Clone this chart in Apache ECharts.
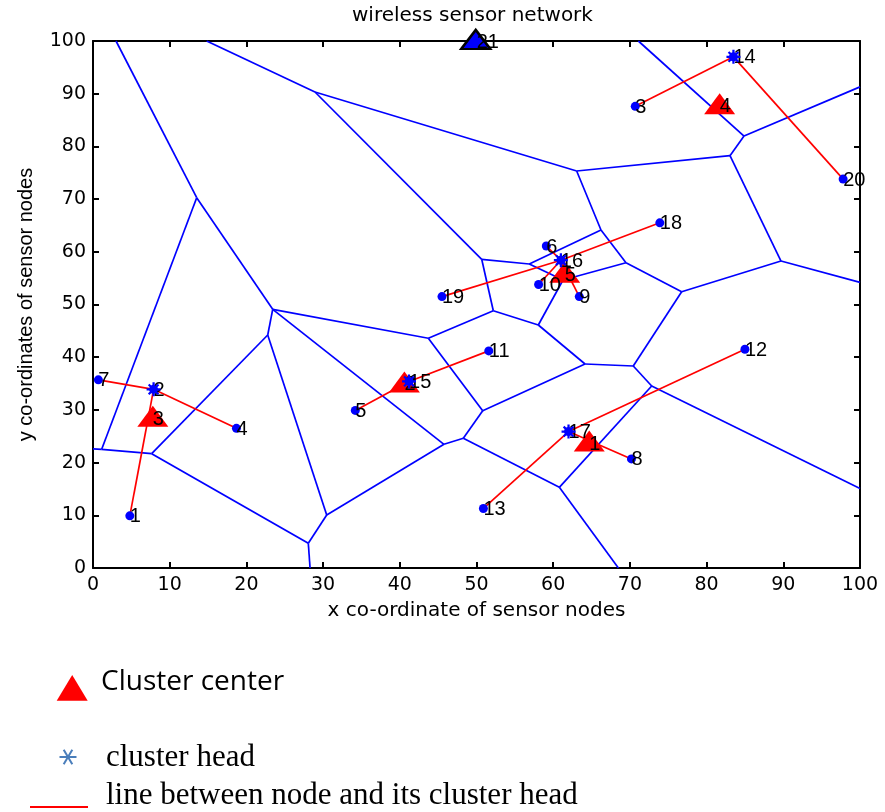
<!DOCTYPE html>
<html>
<head>
<meta charset="utf-8">
<script src="https://cdn.jsdelivr.net/npm/echarts@6/dist/echarts.min.js"></script>
<style>html,body{margin:0;padding:0;background:#fff}#c{width:885px;height:812px}</style>
</head>
<body>
<div id="c"></div>
<script>
// ---- sensor nodes (ids 1..20) ----
const nodeX = [4.8, 7.9, 70.7, 18.7, 34.2, 59.1, 0.7, 70.2, 63.4, 58.1, 51.6, 85.0, 50.9, 83.5, 41.2, 61.0, 62.0, 73.9, 45.5, 97.8];
const nodeY = [9.9, 33.9, 87.6, 26.5, 29.9, 61.1, 35.7, 20.7, 51.5, 53.8, 41.2, 41.5, 11.3, 97.0, 35.4, 58.4, 25.9, 65.5, 51.5, 73.8];
// cluster head of each node
const nodeHead = [2, 2, 14, 2, 15, 16, 2, 17, 16, 16, 15, 17, 17, 14, 15, 16, 17, 16, 16, 14];
const headIds = [2, 15, 17, 16, 14];
// cluster centers
const centerLabels = ['1', '2', '3', '4', '5'];
const centerX = [64.7, 40.6, 7.8, 81.7, 61.5];
const centerY = [24.1, 35.3, 28.8, 88.1, 56.1];
// base station
const baseLabel = ['21'];
const baseX = [49.9];
const baseY = [100.3];
// Voronoi diagram vertices and edges
const vorX = [13.52, 28.94, 63.06, 50.68, 23.43, 1.13, 7.65, 22.78, 30.47, 28.07, 45.76, 48.28, 50.81, 60.80, 72.84, 70.44, 64.15, 58.06, 52.19, 43.72, 56.88, 61.28, 66.23, 69.49, 76.75, 89.70, 83.05, 84.88, 3.0, 14.82, 71.1, 100, 100, 100, 0, 28.3, 68.5];
const vorY = [70.27, 90.32, 75.33, 58.58, 49.09, 22.52, 21.69, 44.21, 10.06, 4.69, 23.47, 24.61, 29.85, 15.31, 34.54, 38.33, 38.71, 46.11, 48.82, 43.59, 57.69, 54.65, 64.14, 57.93, 52.43, 58.25, 78.24, 81.97, 100, 100, 100, 91.3, 54.2, 15.1, 22.6, 0, 0];
const vorEdges = [[28,0],[0,5],[0,4],[29,1],[1,2],[1,3],[34,5],[5,6],[6,7],[7,4],[6,9],[9,35],[9,8],[7,8],[8,10],[4,10],[4,19],[19,18],[19,12],[10,11],[11,12],[11,13],[13,36],[13,14],[14,33],[14,15],[15,16],[12,16],[16,17],[17,18],[18,3],[3,20],[20,22],[20,21],[21,23],[21,17],[22,2],[22,23],[23,24],[24,15],[24,25],[25,32],[25,26],[26,2],[26,27],[27,31],[27,30]];
const xTicks = [0, 10, 20, 30, 40, 50, 60, 70, 80, 90, 100];

const vorData = vorEdges.map(e => ({coords: [[vorX[e[0]], vorY[e[0]]], [vorX[e[1]], vorY[e[1]]]]}));
const linkData = [];
nodeHead.forEach((h, i) => {
  if (h !== i + 1) linkData.push({coords: [[nodeX[i], nodeY[i]], [nodeX[h - 1], nodeY[h - 1]]]});
});
const nodeData = nodeX.map((x, i) => ({name: String(i + 1), value: [x, nodeY[i]]}));
const headData = headIds.map(h => ({name: String(h), value: [nodeX[h - 1], nodeY[h - 1]]}));
const centerData = centerX.map((x, i) => ({name: centerLabels[i], value: [x, centerY[i]]}));
const baseData = baseX.map((x, i) => ({name: baseLabel[i], value: [x, baseY[i]]}));

const asteriskPath = 'path://M-10,-1.6 L10,-1.6 L10,1.6 L-10,1.6 Z M-1.6,-10 L1.6,-10 L1.6,10 L-1.6,10 Z M-5.9,-8.1 L8.1,5.9 L5.9,8.1 L-8.1,-5.9 Z M5.9,-8.1 L8.1,-5.9 L-5.9,8.1 L-8.1,5.9 Z';

const tickFont = 'DejaVu Sans';
const lbl = (dx, dy) => ({
  show: true, position: ['50%', '50%'], align: 'left', verticalAlign: 'middle', offset: [dx, dy],
  formatter: p => p.name, fontFamily: 'Liberation Sans', fontSize: 20, color: '#000'
});
const axisCommon = {
  type: 'value', min: 0, max: 100, interval: 10,
  axisLine: {show: true, onZero: false, lineStyle: {color: '#000', width: 2}},
  axisTick: {show: true, inside: true, length: 6, lineStyle: {color: '#000', width: 2}},
  splitLine: {show: false}
};

const chart = echarts.init(document.getElementById('c'));
chart.setOption({
  animation: false,
  backgroundColor: '#fff',
  title: {
    text: 'wireless sensor network', left: 352, top: 6, padding: 0,
    textStyle: {fontFamily: tickFont, fontSize: 20, fontWeight: 'normal', color: '#000'}
  },
  grid: {left: 93, right: 25, top: 41, bottom: 244},
  xAxis: [
    Object.assign({}, axisCommon, {
      position: 'bottom',
      name: 'x co-ordinate of sensor nodes', nameLocation: 'middle', nameGap: 33,
      nameTextStyle: {fontFamily: tickFont, fontSize: 20, color: '#000'},
      axisLabel: {fontFamily: tickFont, fontSize: 19, color: '#000', margin: 8,
        formatter: v => (xTicks.indexOf(v) >= 0 ? String(v) : '')}
    }),
    Object.assign({}, axisCommon, {position: 'top', axisLabel: {show: false}})
  ],
  yAxis: [
    Object.assign({}, axisCommon, {
      position: 'left',
      name: 'y co-ordinates of sensor nodes', nameLocation: 'middle', nameGap: 57,
      nameTextStyle: {fontFamily: 'Liberation Sans', fontSize: 20, color: '#000'},
      axisLabel: {fontFamily: tickFont, fontSize: 19, color: '#000', margin: 7}
    }),
    Object.assign({}, axisCommon, {position: 'right', axisLabel: {show: false}})
  ],
  series: [
    {
      type: 'lines', coordinateSystem: 'cartesian2d', xAxisIndex: 0, yAxisIndex: 0,
      data: vorData, silent: true, z: 1,
      lineStyle: {color: '#0000ff', width: 1.7, opacity: 1}
    },
    {
      type: 'lines', coordinateSystem: 'cartesian2d', xAxisIndex: 0, yAxisIndex: 0,
      data: linkData, silent: true, z: 2,
      lineStyle: {color: '#ff0000', width: 1.7, opacity: 1}
    },
    {
      type: 'scatter', data: centerData, symbol: 'triangle', symbolSize: [31, 21], z: 3, clip: false,
      itemStyle: {color: '#ff0000', opacity: 1}, label: lbl(0, 3)
    },
    {
      type: 'scatter', data: nodeData, symbol: 'circle', symbolSize: 9, z: 4, clip: false,
      itemStyle: {color: '#0000ff', opacity: 1}, label: lbl(0, 1)
    },
    {
      type: 'scatter', data: headData, symbol: asteriskPath, symbolSize: 14, z: 5, clip: false,
      itemStyle: {color: '#0000ff', opacity: 1}
    },
    {
      type: 'scatter', data: baseData, symbol: 'triangle', symbolSize: [29, 19], z: 6, clip: false,
      itemStyle: {color: '#0000ff', borderColor: '#000', borderWidth: 2.5, opacity: 1}, label: lbl(1, 3)
    }
  ],
  graphic: [
    {type: 'polygon', shape: {points: [[56.7, 700.7], [87.7, 700.7], [72.2, 675]]}, style: {fill: '#ff0000'}},
    {type: 'text', x: 101, y: 682.5, style: {text: 'Cluster center', font: '28px "Open Sans"', fill: '#000', verticalAlign: 'middle', align: 'left'}},
    {type: 'line', shape: {x1: 59.5, y1: 757, x2: 76.5, y2: 757}, style: {stroke: '#4a7ebb', lineWidth: 2}},
    {type: 'line', shape: {x1: 63.7, y1: 749.7, x2: 72.3, y2: 764.3}, style: {stroke: '#4a7ebb', lineWidth: 2}},
    {type: 'line', shape: {x1: 63.7, y1: 764.3, x2: 72.3, y2: 749.7}, style: {stroke: '#4a7ebb', lineWidth: 2}},
    {type: 'text', x: 106, y: 758, style: {text: 'cluster head', font: '31px "Liberation Serif"', fill: '#000', verticalAlign: 'middle', align: 'left'}},
    {type: 'line', shape: {x1: 30, y1: 807, x2: 88, y2: 807}, style: {stroke: '#ff0000', lineWidth: 2}},
    {type: 'text', x: 106, y: 796, style: {text: 'line between node and its cluster head', font: '31px "Liberation Serif"', fill: '#000', verticalAlign: 'middle', align: 'left'}}
  ]
});
</script>
</body>
</html>
